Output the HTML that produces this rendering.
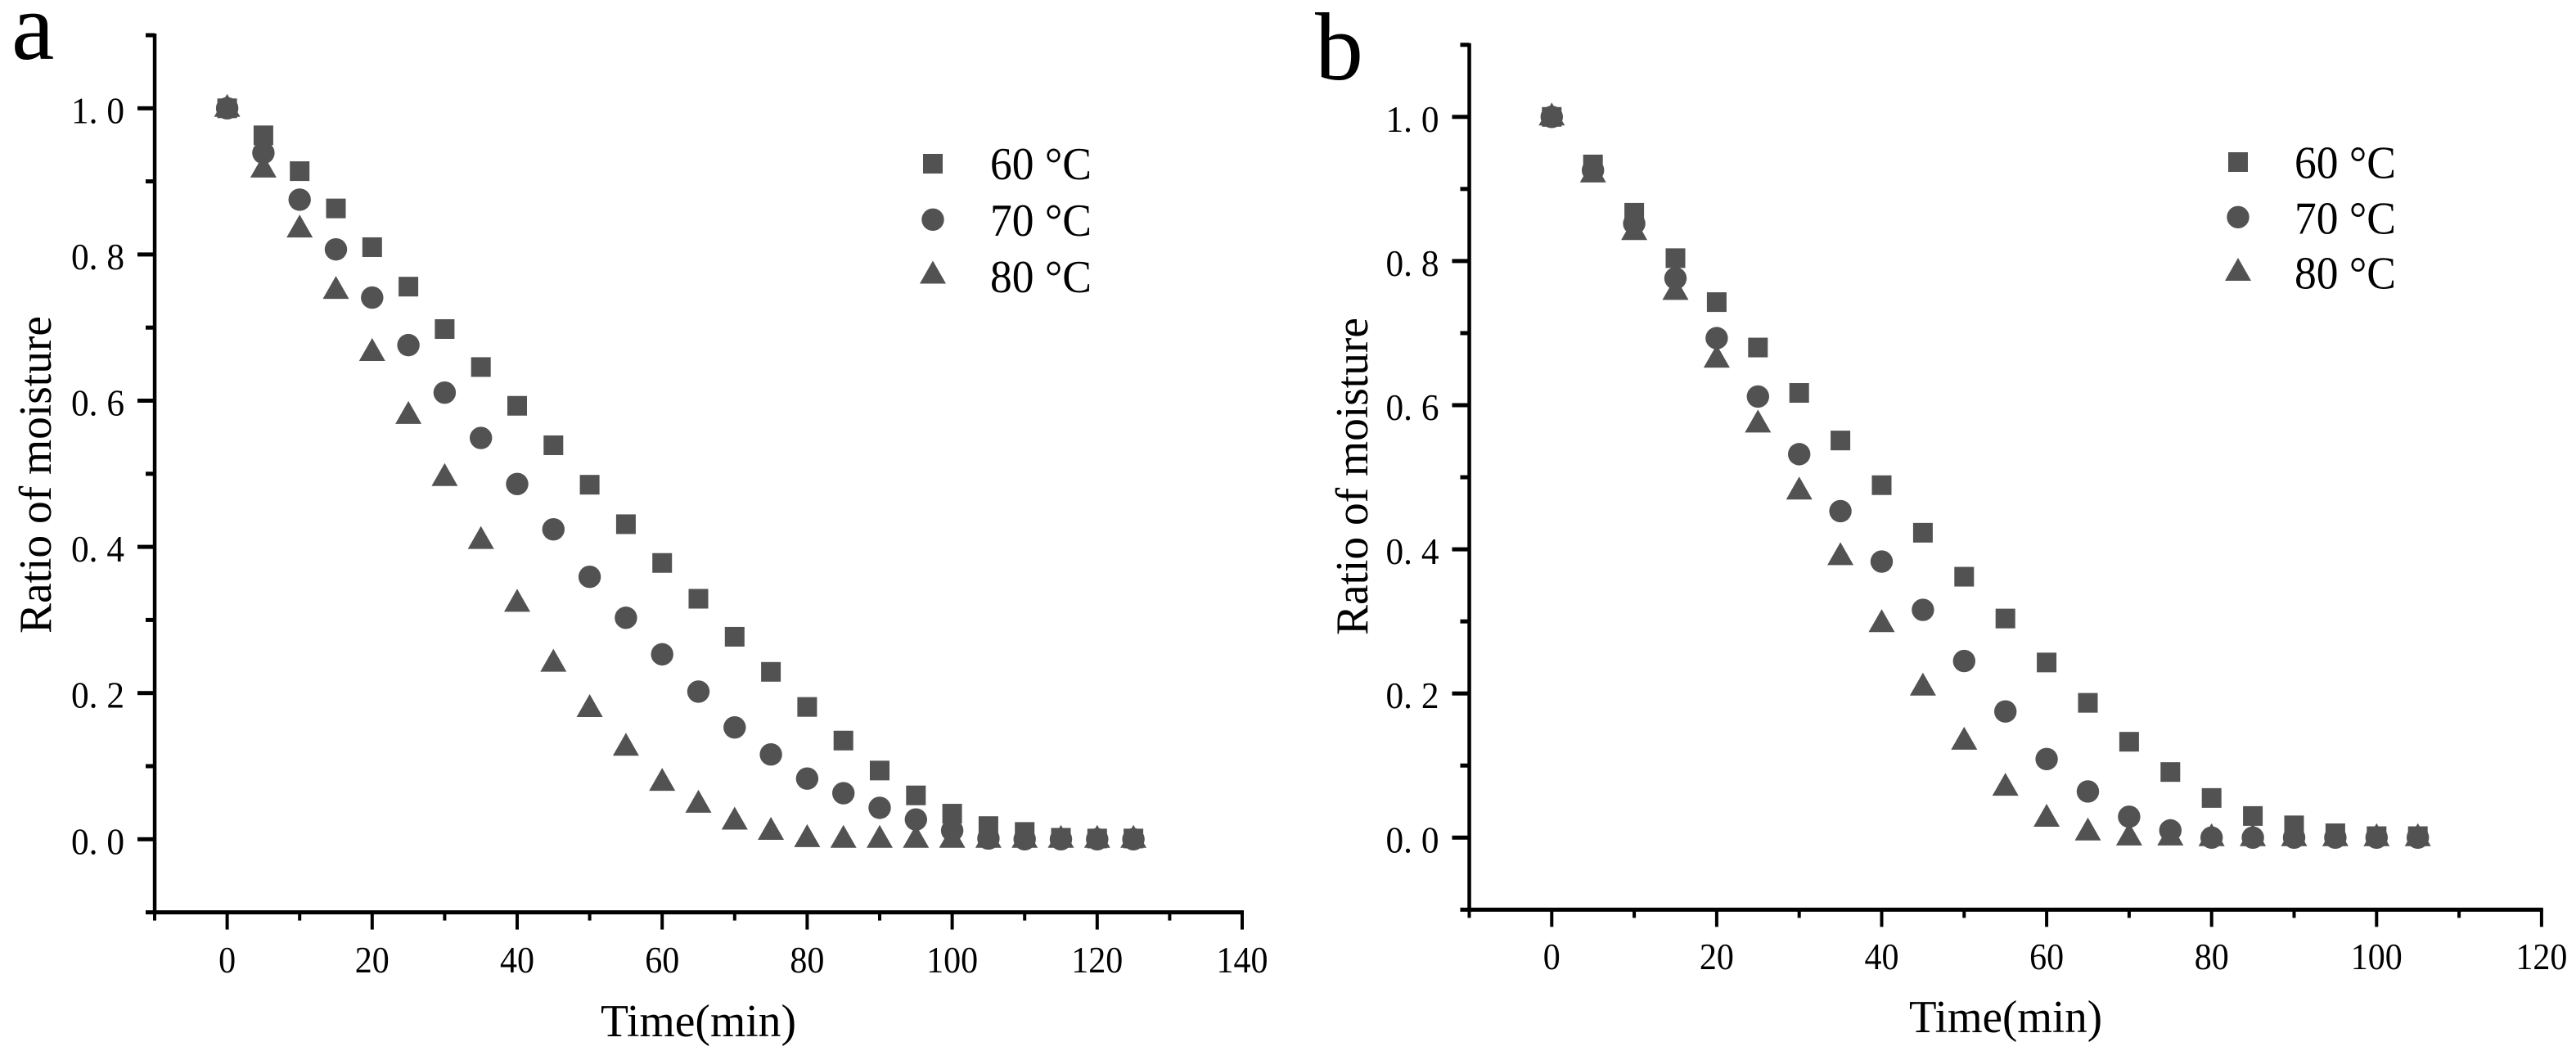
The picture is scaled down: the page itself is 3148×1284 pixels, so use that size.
<!DOCTYPE html>
<html lang="en">
<head>
<meta charset="utf-8">
<title>Ratio of moisture vs drying time</title>
<style>
  html, body { margin: 0; padding: 0; background: #fff; }
  svg { display: block; }
  text { font-family: "Liberation Serif", serif; fill: #000; }
</style>
</head>
<body>
<svg id="figure" xmlns="http://www.w3.org/2000/svg" width="3148" height="1284" viewBox="0 0 3148 1284">
  <rect width="3148" height="1284" fill="#fff"/>
  <text x="14" y="72" font-size="118">a</text>
  <text x="1607" y="97" font-size="118">b</text>
  <g id="panel-a"></g>
  <g id="panel-b"></g>
</svg>
<script>
const timesA = [0,5,10,15,20,25,30,35,40,45,50,55,60,65,70,75,80,85,90,95,100,105,110,115,120,125];
const moisture60A = [1,.963,.914,.863,.81,.756,.698,.646,.593,.539,.485,.431,.378,.329,.277,.229,.181,.135,.094,.06,.035,.018,.01,.002,.001,.001];
const moisture70A = [1,.939,.875,.807,.741,.676,.611,.549,.486,.424,.359,.303,.253,.202,.153,.116,.083,.063,.043,.027,.012,.001,0,0,0,0];
const moisture80A = [1,.917,.835,.751,.666,.58,.495,.409,.323,.241,.179,.126,.078,.048,.025,.011,.001,0,0,0,0,0,0,0,0,0];

const timesB = [0,5,10,15,20,25,30,35,40,45,50,55,60,65,70,75,80,85,90,95,100,105];
const moisture60B = [1,.934,.867,.804,.743,.68,.617,.551,.489,.423,.362,.304,.243,.187,.133,.091,.055,.03,.017,.006,.002,.002];
const moisture70B = [1,.926,.852,.776,.693,.612,.532,.453,.383,.316,.245,.175,.109,.064,.029,.01,0,0,0,0,0,0];
const moisture80B = [1,.921,.841,.758,.664,.574,.481,.39,.297,.209,.134,.07,.027,.008,.001,.001,0,0,0,0,0,0];

const xMajorTicksA = [0,20,40,60,80,100,120,140];
const xMinorTicksA = [-10,10,30,50,70,90,110,130];
const xMajorTicksB = [0,20,40,60,80,100,120];
const xMinorTicksB = [-10,10,30,50,70,90,110];
const yMajorTicks = ["0.0","0.2","0.4","0.6","0.8","1.0"];
const yMinorTicks = [-0.1,0.1,0.3,0.5,0.7,0.9,1.1];
const seriesLabels = ["60 °C","70 °C","80 °C"];

const NS = "http://www.w3.org/2000/svg";
const MARK = "#525252";

function make(tag, attrs, parent) {
  const el = document.createElementNS(NS, tag);
  for (const k in attrs) el.setAttribute(k, attrs[k]);
  parent.appendChild(el);
  return el;
}

function drawSquare(parent, cx, cy) {
  return make("rect", {x: cx - 12, y: cy - 12, width: 24, height: 24, fill: MARK}, parent);
}
function drawCircle(parent, cx, cy) {
  return make("circle", {cx: cx, cy: cy, r: 13.7, fill: MARK}, parent);
}
function drawTriangle(parent, cx, cy) {
  const pts = (cx) + "," + (cy - 17.5) + " " + (cx + 16) + "," + (cy + 10.5) + " " + (cx - 16) + "," + (cy + 10.5);
  return make("polygon", {points: pts, fill: MARK}, parent);
}

function drawPanel(root, cfg) {
  const xAt = t => cfg.x0 + cfg.xUnit * t;
  const yAt = v => cfg.y0 - cfg.yUnit * v;
  const axisY = yAt(-0.1);
  const axisX = xAt(-10);

  // y axis line
  const yAxis = make("rect", {x: axisX - 2.2, y: yAt(1.1) - 2, width: 4.5, height: axisY - yAt(1.1) + 4, fill: "#000"}, root);
  
  

  // x axis line
  const xAxis = make("rect", {x: axisX - 2, y: axisY - 2.5, width: xAt(cfg.xMax) - axisX + 4, height: 5, fill: "#000"}, root);
  
  

  // y ticks
  yMajorTicks.forEach(label => {
    const y = yAt(parseFloat(label));
    const tick = make("rect", {x: axisX - 21, y: y - 2.5, width: 21, height: 5, fill: "#000"}, root);
    
    
    const txt = make("text", {x: axisX - 102, y: y + 18, "font-size": 46, textLength: 65, lengthAdjust: "spacingAndGlyphs"}, root);
    
    
    txt.setAttribute('xml:space', 'preserve');
    txt.style.whiteSpace = 'pre';
    txt.textContent = label.replace(".", ". ");
  });
  yMinorTicks.forEach(v => {
    const y = yAt(v);
    const tick = make("rect", {x: axisX - 11, y: y - 2.5, width: 11, height: 5, fill: "#000"}, root);
    
    
  });

  // x ticks
  cfg.xMajor.forEach(t => {
    const x = xAt(t);
    const tick = make("rect", {x: x - 2, y: axisY, width: 4, height: 21, fill: "#000"}, root);
    
    
    const s = String(t);
    const w = s.length * 21;
    const txt = make("text", {x: x - w / 2, y: cfg.xLabelY, "font-size": 46, textLength: w, lengthAdjust: "spacingAndGlyphs"}, root);
    
    
    txt.textContent = s;
  });
  cfg.xMinor.forEach(t => {
    const x = xAt(t);
    const tick = make("rect", {x: x - 2, y: axisY, width: 4, height: 10, fill: "#000"}, root);
    
    
  });

  // series marks (triangles underneath, squares next, circles on top all share one colour)
  const draws = [drawSquare, drawCircle, drawTriangle];
  const names = ['point-60c', 'point-70c', 'point-80c'];
  cfg.series.forEach((vals, i) => {
    const group = make("g", {}, root);
    
    
    vals.forEach((v, j) => {
      const mark = draws[i](group, xAt(cfg.times[j]), yAt(v));
      
      
    });
  });

  // legend
  const legend = make("g", {}, root);
  
  
  seriesLabels.forEach((label, i) => {
    const sym = draws[i](legend, cfg.legendX, cfg.legendSymY[i]);
    
    
    const txt = make("text", {x: cfg.legendTextX, y: cfg.legendTextY[i], "font-size": 56, textLength: 124, lengthAdjust: "spacingAndGlyphs"}, legend);
    
    
    txt.textContent = label;
  });

  // axis titles
  const xt = make("text", {x: cfg.xTitleX, y: cfg.xTitleY, "font-size": 56, textLength: cfg.xTitleW, lengthAdjust: "spacingAndGlyphs"}, root);
  
  
  xt.textContent = "Time(min)";

  const yt = make("text", {x: 0, y: 0, "font-size": 56, textLength: 388, lengthAdjust: "spacingAndGlyphs", transform: "translate(" + cfg.yTitleX + "," + cfg.yTitleY + ") rotate(-90)"}, root);
  
  
  yt.textContent = "Ratio of moisture";
}

drawPanel(document.getElementById("panel-a"), {
  x0: 277.6, xUnit: 8.86, xMax: 140,
  y0: 1025.3, yUnit: 893,
  xMajor: xMajorTicksA, xMinor: xMinorTicksA,
  xLabelY: 1188,
  times: timesA,
  series: [moisture60A, moisture70A, moisture80A],
  legendX: 1140, legendSymY: [200, 268.3, 336], legendTextX: 1210, legendTextY: [219, 288, 357],
  xTitleX: 734, xTitleY: 1266, xTitleW: 239,
  yTitleX: 62, yTitleY: 774
});

drawPanel(document.getElementById("panel-b"), {
  x0: 1896.3, xUnit: 10.08, xMax: 120,
  y0: 1023.3, yUnit: 880.5,
  xMajor: xMajorTicksB, xMinor: xMinorTicksB,
  xLabelY: 1184,
  times: timesB,
  series: [moisture60B, moisture70B, moisture80B],
  legendX: 2735, legendSymY: [198, 265.3, 332.5], legendTextX: 2804, legendTextY: [217.3, 285.7, 352.7],
  xTitleX: 2333, xTitleY: 1261, xTitleW: 236,
  yTitleX: 1671, yTitleY: 776
});
</script>
</body>
</html>
